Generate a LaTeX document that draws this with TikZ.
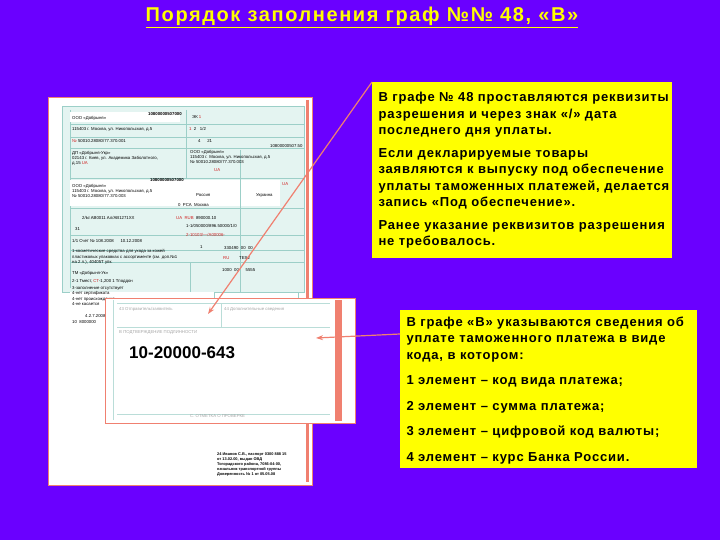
\documentclass[tikz,border=0pt]{standalone}
\usepackage{fontspec}
\setmainfont{Liberation Sans}
\newfontfamily\cfont[LetterSpace=6.5]{Liberation Sans}
\newfontfamily\tfont[LetterSpace=8]{Liberation Sans}
\usetikzlibrary{arrows.meta}
\definecolor{bg}{HTML}{6A00FF}
\definecolor{ybox}{HTML}{FFFF00}
\definecolor{arr}{HTML}{F08070}
\definecolor{formline}{HTML}{9CCFC8}
\definecolor{formfill}{HTML}{E4F4F1}
\definecolor{redt}{HTML}{D02020}
\tikzset{
  callout/.style={fill=ybox,draw=none,inner sep=0pt},
  ctext/.style={font=\cfont\bfseries\fontsize{13}{16.5}\selectfont,align=left,anchor=north west},
  ftext/.style={font=\fontsize{4.3}{5.2}\selectfont,anchor=west,inner sep=0pt,align=left},
  fbox/.style={draw=formline,line width=0.4pt},
  pointer/.style={draw=arr,line width=1.2pt,-{Stealth[length=7pt,width=5pt]}},
}
\begin{document}
\begin{tikzpicture}[x=1pt,y=-1pt]
\fill[bg] (0,0) rectangle (720,540);
\useasboundingbox (0,0) rectangle (720,540);
% title
\node[font=\tfont\bfseries\fontsize{20}{24}\selectfont,text=ybox] (title) at (362,17)
  {\underline{Порядок заполнения граф №№ 48, «В»}};
% form
\node[draw=arr,line width=0.8pt,fill=white,minimum width=264pt,minimum height=388pt,anchor=north west,inner sep=0pt] (form) at (48,97) {};
\fill[arr] (306,100) rectangle (309,482);
\fill[formfill] (62,106) rectangle (304,292);
\draw[fbox] (62,106) rectangle (304,292);
\draw[fbox] (70,110) -- (70,288);
\foreach \yy in {124,137,148,178,208,235,250,262} \draw[fbox] (70,\yy) -- (304,\yy);
\draw[fbox] (186,110) -- (186,178);
\draw[fbox] (190,262) -- (190,292);
\fill[white] (70,112) rectangle (180,122);
\fill[white] (70,180) rectangle (280,206);
\fill[white] (70,292) rectangle (240,420);
\draw[fbox] (240,150) -- (240,292);
\draw[fbox] (214,292) rectangle (298,332);
\node[ftext] (f1) at (72,118) {ООО «Добрыня»};
\node[ftext,font=\bfseries\fontsize{4.3}{5.2}\selectfont] (f2) at (148,114) {10800000507000};
\node[ftext] (f3) at (192,117) {ЭК \textcolor{redt}{1}};
\node[ftext] (f4) at (72,129) {115403 г. Москва, ул. Никопольская, д.5};
\node[ftext] (f5) at (189,129) {\textcolor{redt}{1} \ 2 \ \ 1/2};
\node[ftext] (f6) at (72,141) {\textcolor{redt}{№} 50010.28080/77.370.001};
\node[ftext] (f7) at (198,141) {4 \quad \ 21};
\node[ftext] (f8) at (270,146) {10800000507.50};
\node[ftext] (f9) at (72,153) {ДП «Добрыня-Укр»};
\node[ftext] (f10) at (72,161) {02143 г. Киев, ул. Академика Заболотного,\\д.15 \textcolor{redt}{UA}};
\node[ftext] (f11) at (190,157) {ООО «Добрыня»\\115403 г. Москва, ул. Никопольская, д.5\\№ 50010.28080/77.370.003};
\node[ftext] (f12) at (214,170) {\textcolor{redt}{UA}};
\node[ftext,font=\bfseries\fontsize{4.3}{5.2}\selectfont] (f13) at (150,180) {10800000507000};
\node[ftext] (f14) at (72,191) {ООО «Добрыня»\\115403 г. Москва, ул. Никопольская, д.5\\№ 50010.28080/77.370.003};
\node[ftext] (f15) at (282,184) {\textcolor{redt}{UA}};
\node[ftext] (f16) at (196,195) {Россия};
\node[ftext] (f17) at (256,195) {Украина};
\node[ftext] (f18) at (178,205) {0 \ РСА \ Москва};
\node[ftext] (f19) at (82,218) {2/Ы АВ0011 Ал/АВ1271ХХ};
\node[ftext] (f20) at (176,218) {\textcolor{redt}{UA \ RUB} \ 890000.10};
\node[ftext] (f21) at (186,226) {1-1/050000/896.50000/1/0};
\node[ftext] (f22) at (186,235) {\textcolor{redt}{2-10103/---/А00006-}};
\node[ftext] (f23) at (75,229) {31};
\node[ftext] (f24) at (72,241) {1/1 Счет № 108.2008 \quad\ 10.12.2008};
\node[ftext] (f25) at (200,247) {1};
\node[ftext] (f26) at (224,248) {330490 \ 00 \ 00};
\node[ftext] (f27) at (72,257) {1-косметические средства для ухода за кожей\\пластиковых упаковках с ассортименте (см. доп.№1\\на 2 л.), 40405Т упк.};
\node[ftext] (f28) at (223,258) {\textcolor{redt}{RU} \quad\quad TES2};
\node[ftext] (f29) at (222,270) {1000 \ 00 \quad\ 5555};
\node[ftext] (f30) at (72,273) {ТМ «Добрыня-Ук»};
\node[ftext] (f31) at (72,281) {2-1 Тмест, \textcolor{redt}{СТ}-1,200 1 Тподдон};
\node[ftext] (f32) at (72,296) {3-заполнение отсутствует\\4-нет сертификата\\4-нет происхождения\\4-не касается};
\node[ftext] (f33) at (85,316) {4.2.7.2008};
\node[ftext] (f34) at (72,322) {10 \ 8000000};
% bottom-right signature block
\node[ftext,font=\bfseries\fontsize{3.9}{5}\selectfont] (sig) at (217,465) {24 Иванов С.В., паспорт 0300 888 15\\от 13.02.00, выдан ОВД\\Тогорадского района, 7086-04-00,\\начальник транспортной группы\\Доверенность № 1 от 05.05.08};
% inset
\node[draw=arr,line width=0.8pt,fill=white,minimum width=250pt,minimum height=125pt,anchor=north west,inner sep=0pt] (inset) at (105,298) {};
\fill[arr] (335,300) rectangle (342,421);
\draw[formline!70] (113,300) -- (113,420);
\draw[formline!70] (117,303) -- (330,303) (117,327) -- (330,327) (221,303) -- (221,327) (117,414) -- (330,414);
\node[ftext,text=gray!70] (i1) at (119,309) {43 Отправитель/заявитель};
\node[ftext,text=gray!70] (i2) at (224,309) {44 Дополнительные сведения};
\node[ftext,text=gray!70] (i3) at (119,332) {В ПОДТВЕРЖДЕНИЕ ПОДЛИННОСТИ};
\node[ftext,text=gray!70] (i4) at (190,416) {С. ОТМЕТКА О ПРОВЕРКЕ};
\node[font=\bfseries\fontsize{17}{20}\selectfont,anchor=west,inner sep=0pt] (code) at (129,353) {10-20000-643};
\coordinate (t1) at (208,314);
\coordinate (t2) at (316,338);
% callouts
\node[callout,minimum width=300pt,minimum height=176pt,anchor=north west] (b1) at (372,82) {};
\node[ctext] (b1t) at (375,89) {В графе № 48 проставляются реквизиты\\разрешения и через знак «/» дата\\последнего дня уплаты.\\[6pt]
Если декларируемые товары\\заявляются к выпуску под обеспечение\\уплаты таможенных платежей, делается\\запись «Под обеспечение».\\[6pt]
Ранее указание реквизитов разрешения\\не требовалось.};
\node[callout,minimum width=297pt,minimum height=158pt,anchor=north west] (b2) at (400,310) {};
\node[ctext] (b2t) at (403,313) {В графе «В» указываются сведения об\\уплате таможенного платежа в виде\\кода, в котором:\\[9pt]
1 элемент – код вида платежа;\\[9pt]
2 элемент – сумма платежа;\\[9pt]
3 элемент – цифровой код валюты;\\[9pt]
4 элемент – курс Банка России.};
\draw[pointer] (b1.north west) -- (t1);
\draw[pointer] (b2.west |- 0,334) -- (t2);
\end{tikzpicture}
\end{document}
